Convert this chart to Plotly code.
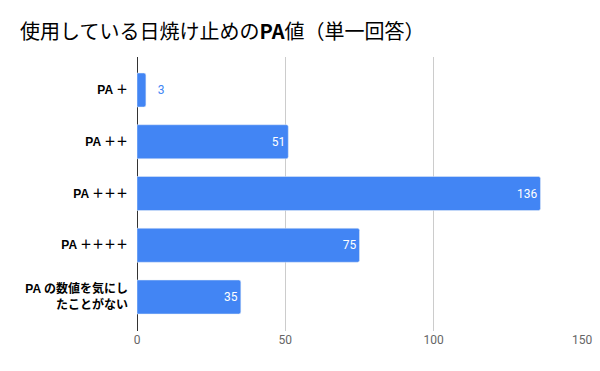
import plotly.graph_objects as go

categories = ["PA ＋", "PA ＋＋", "PA ＋＋＋", "PA ＋＋＋＋", "PA の数値を気にし<br>たことがない"]
values = [3, 51, 136, 75, 35]
x_ticks = [0, 50, 100, 150]

blue = "#4285f4"
font = "Roboto, 'Noto Sans CJK JP', sans-serif"
label_font = "'Liberation Sans', 'Noto Sans CJK JP', sans-serif"

text_pos = ["outside" if v < 10 else "inside" for v in values]
text_col = [blue if v < 10 else "white" for v in values]
text_str = [("   " + str(v)) if v < 10 else str(v) for v in values]

fig = go.Figure(go.Bar(
    x=values, y=categories, orientation="h",
    marker=dict(color=blue, cornerradius=2),
    text=text_str, textposition=text_pos,
    insidetextanchor="end",
    textfont=dict(color=text_col, size=12, family=font),
    cliponaxis=False,
))

fig.update_layout(
    width=600, height=371,
    margin=dict(l=137, r=18, t=57, b=40, autoexpand=False),
    paper_bgcolor="white", plot_bgcolor="white",
    title=dict(text="使用している日焼け止めの<b>PA</b>値（単一回答）",
               x=20 / 600, xanchor="left", xref="container",
               y=1 - 32 / 371, yanchor="middle", yref="container",
               font=dict(size=20, color="#000", family="'Noto Sans CJK JP', sans-serif")),
    bargap=0.343, showlegend=False,
    xaxis=dict(range=[0, 150], tickvals=x_ticks, showgrid=True, gridcolor="#cccccc",
               zeroline=True, zerolinecolor="#333333", zerolinewidth=1, automargin=False,
               tickfont=dict(size=12, color="#666666", family=font), ticks=""),
    yaxis=dict(range=[4.657, -0.638], showgrid=False, ticks="", automargin=False,
               ticklabelstandoff=8,
               tickfont=dict(size=12, color="#000", family=label_font, weight="bold")),
)

fig.write_html("out.html", config={"displayModeBar": False},
               post_script="document.body.style.margin='0';")
